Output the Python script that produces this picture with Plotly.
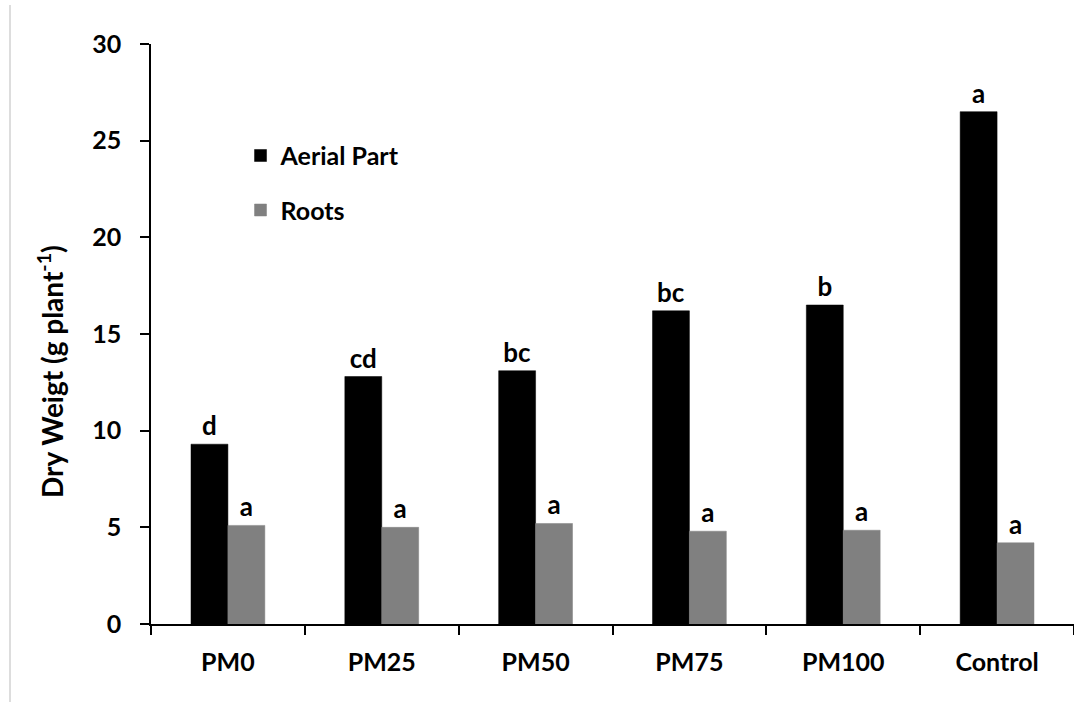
import plotly.graph_objects as go

categories = ["PM0", "PM25", "PM50", "PM75", "PM100", "Control"]
aerial = [9.3, 12.8, 13.1, 16.2, 16.5, 26.5]
roots = [5.1, 5.0, 5.2, 4.8, 4.85, 4.2]
aerial_letters = ["d", "cd", "bc", "bc", "b", "a"]
roots_letters = ["a", "a", "a", "a", "a", "a"]
y_ticks = [0, 5, 10, 15, 20, 25, 30]
y_title = "Dry Weigt (g plant<sup>-1</sup>)"

FONT = "Lato"
FS = 25

fig = go.Figure()
fig.add_trace(go.Bar(
    x=categories, y=aerial, name="Aerial Part", legendgroup="g1",
    marker=dict(color="#000000", line=dict(color="#000000", width=0.5)),
    text=aerial_letters, textposition="outside", cliponaxis=False,
    textfont=dict(family=FONT, size=26, color="#000000", weight="bold"),
))
fig.add_trace(go.Bar(
    x=categories, y=roots, name="Roots", legendgroup="g2",
    marker=dict(color="#808080", line=dict(color="#808080", width=0.5)),
    text=roots_letters, textposition="outside", cliponaxis=False,
    textfont=dict(family=FONT, size=26, color="#000000", weight="bold"),
))

fig.update_layout(
    width=1074, height=702,
    margin=dict(l=151, r=0, t=44, b=78),
    paper_bgcolor="white", plot_bgcolor="white",
    barmode="group", bargap=0.52, bargroupgap=0,
    font=dict(family=FONT, size=FS, color="#000000", weight="bold"),
    showlegend=True,
    legend=dict(
        x=0.097, y=0.847, xanchor="left", yanchor="top",
        font=dict(family=FONT, size=FS, color="#000000", weight="bold"),
        tracegroupgap=19, traceorder="grouped",
        bgcolor="rgba(0,0,0,0)",
    ),
    uniformtext=dict(minsize=FS, mode="show"),
)
fig.update_xaxes(
    showline=True, linecolor="#000000", linewidth=1.5,
    ticks="outside", ticklen=9, tickcolor="#000000", tickwidth=1.5,
    tickson="boundaries", ticklabelstandoff=15,
    tickfont=dict(family=FONT, size=FS, color="#000000", weight="bold"),
    showgrid=False, zeroline=False,
)
fig.update_yaxes(
    range=[0, 30], tickvals=y_ticks,
    showline=True, linecolor="#000000", linewidth=1.5,
    ticks="outside", ticklen=9, tickcolor="#000000", tickwidth=1.5,
    ticklabelstandoff=14,
    tickfont=dict(family=FONT, size=FS, color="#000000", weight="bold"),
    showgrid=False, zeroline=False,
)
fig.add_annotation(
    text=y_title, textangle=-90, showarrow=False,
    xref="paper", yref="paper",
    x=(50 - 151) / 923, y=(624 - 372) / 580,
    xanchor="center", yanchor="middle",
    font=dict(family=FONT, size=28, color="#000000", weight="bold"),
)
fig.add_shape(type="line", xref="paper", yref="paper",
              x0=(10 - 151) / 923, x1=(10 - 151) / 923,
              y0=(624 - 702) / 580, y1=(624 - 5) / 580,
              line=dict(color="#BBBBBB", width=1))

fig.write_html("out.html")
